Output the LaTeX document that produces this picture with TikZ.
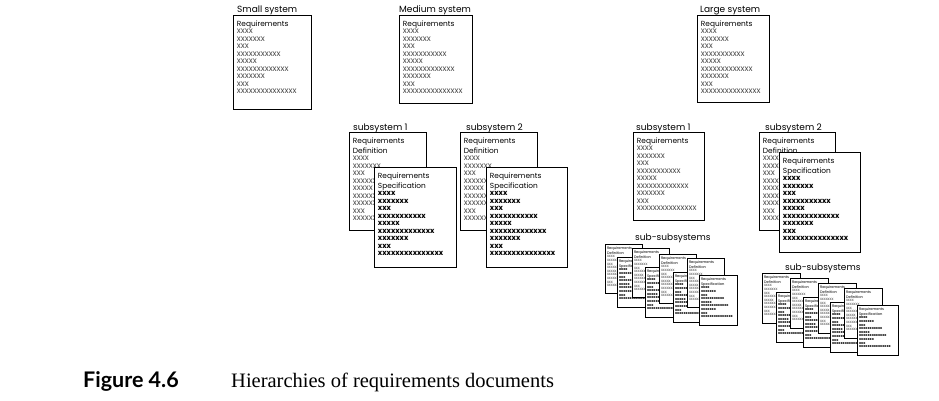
\documentclass[tikz,border=0pt]{standalone}
\usepackage{fontspec}
\usepackage{xcolor}
\usetikzlibrary{positioning}
\newfontfamily\docfont{Poppins}
\newfontfamily\figfont{Lato}
\newfontfamily\capfont{Liberation Serif}
\definecolor{xgrey}{gray}{0.3}

% the x lines of every document
\newcommand{\xlines}{xxxx\\xxxxxxx\\xxx\\xxxxxxxxxxx\\xxxxx\\xxxxxxxxxxxxx\\xxxxxxx\\xxx\\xxxxxxxxxxxxxxx}
\newcommand{\normalset}{\docfont\def\titlefont{\fontsize{7.4}{10}\selectfont}\def\xfont{\fontsize{8.3}{7.5}\selectfont}\def\bxfont{\fontsize{7.4}{7.5}\selectfont\bfseries}}
\newcommand{\tinyset}{\docfont\def\titlefont{\fontsize{3.6}{4.8}\selectfont}\def\xfont{\fontsize{4}{3.6}\selectfont}\def\bxfont{\fontsize{3.6}{3.6}\selectfont\bfseries}}
\newcommand{\reqtext}[2]{\parbox[t][#2pt][t]{#1pt}{\titlefont Requirements\par\xfont\color{xgrey}\xlines\par}}
\newcommand{\deftext}[2]{\parbox[t][#2pt][t]{#1pt}{\titlefont Requirements\\Definition\par\xfont\color{xgrey}\xlines\par}}
\newcommand{\spectext}[2]{\parbox[t][#2pt][t]{#1pt}{\titlefont Requirements\\Specification\par\bxfont\xlines\par}}

\tikzstyle{doc} = [rectangle, draw=black, line width=0.9pt, fill=white, anchor=north west, inner xsep=3.5pt, inner ysep=5pt, align=left, font=\normalset]
\tikzstyle{tinydoc} = [doc, line width=0.7pt, inner xsep=1.7pt, inner ysep=2.4pt, font=\tinyset]
\tikzstyle{lbl} = [inner sep=0pt, anchor=base west, font=\docfont\fontsize{9}{11}\selectfont]

\begin{document}
\begin{tikzpicture}[x=1pt, y=-1pt]
\useasboundingbox (0,0) rectangle (939,400);

% top level
\node (small) [doc] at (233,15) {\reqtext{71}{84}};
\node (medium) [doc] at (399,15) {\reqtext{66}{78}};
\node (large) [doc] at (697,15) {\reqtext{65}{77}};
\node (smalllbl) [lbl] at (237,12) {Small system};
\node (mediumlbl) [lbl] at (399,12) {Medium system};
\node (largelbl) [lbl] at (700,12) {Large system};

% medium system subsystems
\node (msubadef) [doc] at (349,132) {\deftext{70}{88}};
\node (msubaspec) [doc] at (374,167) {\spectext{75}{90}};
\node (msubbdef) [doc] at (460,132) {\deftext{70}{88}};
\node (msubbspec) [doc] at (486,167) {\spectext{74}{90}};
\node (msubalbl) [lbl] at (353,130) {subsystem 1};
\node (msubblbl) [lbl] at (466,130) {subsystem 2};

% large system subsystems
\node (lsuba) [doc] at (633,132) {\reqtext{64}{78}};
\node (lsubbdef) [doc] at (759,132) {\deftext{69}{88}};
\node (lsubbspec) [doc] at (779,152) {\spectext{74}{90}};
\node (lsubalbl) [lbl] at (636,130) {subsystem 1};
\node (lsubblbl) [lbl] at (765,130) {subsystem 2};

% sub-subsystems of subsystem 1
\node (ssaadef) [tinydoc] at (605,244) {\deftext{33.6}{44}};
\node (ssaaspec) [tinydoc] at (617,257) {\spectext{35}{45}};
\node (ssabdef) [tinydoc] at (632,248) {\deftext{33.6}{44}};
\node (ssabspec) [tinydoc] at (645,267) {\spectext{35}{45}};
\node (ssacdef) [tinydoc] at (659,254) {\deftext{33.6}{44}};
\node (ssacspec) [tinydoc] at (673,272) {\spectext{35}{45}};
\node (ssaddef) [tinydoc] at (687,258) {\deftext{33.6}{44}};
\node (ssadspec) [tinydoc] at (699,275) {\spectext{35}{45}};
\node (ssalbl) [lbl] at (635,240) {sub-subsystems};

% sub-subsystems of subsystem 2
\node (ssbadef) [tinydoc] at (762,273) {\deftext{34.6}{45}};
\node (ssbaspec) [tinydoc] at (776,292) {\spectext{37.6}{45}};
\node (ssbbdef) [tinydoc] at (790,278) {\deftext{34.6}{45}};
\node (ssbbspec) [tinydoc] at (803,297) {\spectext{37.6}{45}};
\node (ssbcdef) [tinydoc] at (818,283) {\deftext{34.6}{45}};
\node (ssbcspec) [tinydoc] at (830,302) {\spectext{37.6}{45}};
\node (ssbddef) [tinydoc] at (844,288) {\deftext{34.6}{45}};
\node (ssbdspec) [tinydoc] at (857,305) {\spectext{37.6}{45}};
\node (ssblbl) [lbl] at (785,270) {sub-subsystems};

% caption
\node (fignum) [inner sep=0pt, anchor=base west, font=\figfont\bfseries\fontsize{21.5}{24}\selectfont] at (83,387) {Figure 4.6};
\node (figtitle) [inner sep=0pt, anchor=base west, font=\capfont\fontsize{20.5}{24}\selectfont] at (231,387) {Hierarchies of requirements documents};
\end{tikzpicture}
\end{document}
